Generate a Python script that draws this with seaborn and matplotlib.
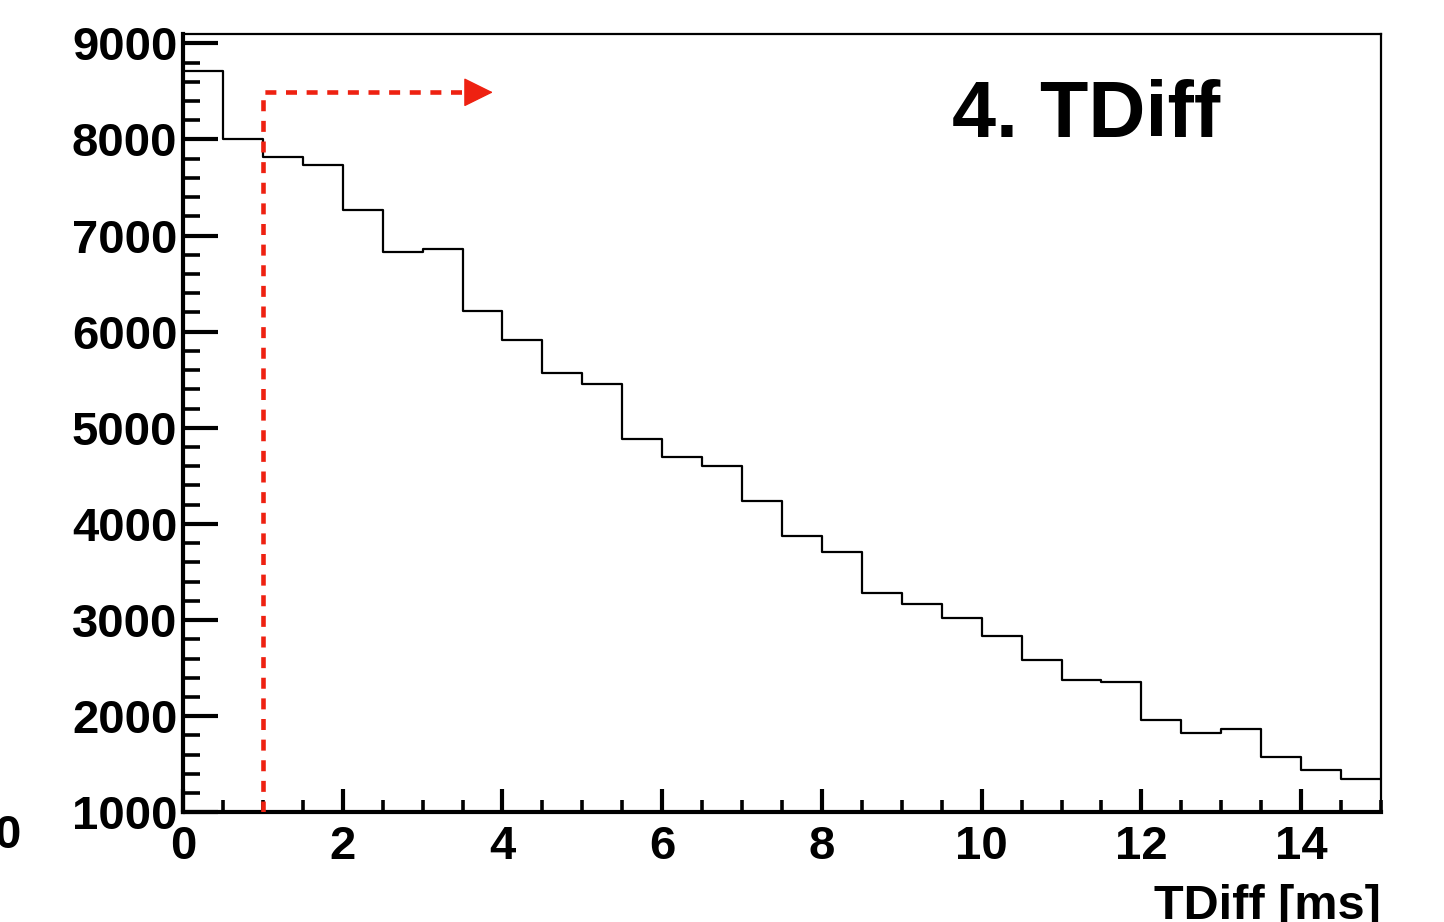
import numpy as np
import pandas as pd
import matplotlib
matplotlib.use("Agg")
import matplotlib.pyplot as plt
from matplotlib.ticker import MultipleLocator
import seaborn as sns

# Histogram of time differences: 30 bins of 0.5 ms between 0 and 15 ms
bin_width = 0.5
x_range = (0, 15)
counts = [8710, 8000, 7822, 7729, 7267, 6834, 6858, 6213, 5915, 5575,
          5453, 4881, 4700, 4607, 4239, 3872, 3712, 3279, 3164, 3019,
          2836, 2588, 2380, 2356, 1964, 1828, 1870, 1575, 1440, 1347]
x_ticks = [0, 2, 4, 6, 8, 10, 12, 14]
y_ticks = [1000, 2000, 3000, 4000, 5000, 6000, 7000, 8000, 9000]

# Selection cut: keep events with TDiff above 1 ms
cut_value = 1.0
cut_arrow_y = 8490
cut_arrow_end = 3.88

title_text = "4. TDiff"
x_label = "TDiff [ms]"

sns.set_style("ticks")
plt.rcParams["font.family"] = ["Liberation Sans", "DejaVu Sans"]
plt.rcParams["font.weight"] = "bold"
for key in ("text.color", "axes.labelcolor", "xtick.color", "ytick.color",
            "axes.edgecolor"):
    plt.rcParams[key] = "black"

fig = plt.figure(figsize=(14.44, 9.22), dpi=100)
ax = fig.add_axes([183 / 1444, 1 - 812.3 / 922, (1381 - 183) / 1444, (812.3 - 33.7) / 922])

centers = x_range[0] + bin_width * (np.arange(len(counts)) + 0.5)
df = pd.DataFrame({"tdiff": centers, "count": counts})
sns.histplot(data=df, x="tdiff", weights="count", binwidth=bin_width,
             binrange=x_range, element="step", fill=False, color="black",
             linewidth=1.6, ax=ax)

ax.set_xlim(*x_range)
ax.set_ylim(1000, 9100)
ax.set_xticks(x_ticks)
ax.set_yticks(y_ticks)
ax.xaxis.set_minor_locator(MultipleLocator(0.5))
ax.yaxis.set_minor_locator(MultipleLocator(200))
ax.set_xlabel("")
ax.set_ylabel("")

for side in ("left", "bottom"):
    ax.spines[side].set_linewidth(3.0)
    ax.spines[side].set_color("black")
for side in ("top", "right"):
    ax.spines[side].set_visible(True)
    ax.spines[side].set_linewidth(1.6)
    ax.spines[side].set_color("black")

ax.tick_params(axis="both", which="both", direction="in", color="black",
               labelcolor="black")
ax.tick_params(axis="y", which="major", length=25, width=3.0, pad=4,
               labelsize=34)
ax.tick_params(axis="y", which="minor", length=12.5, width=2.6)
ax.tick_params(axis="x", which="major", length=16.5, width=3.0, pad=9,
               labelsize=34)
ax.tick_params(axis="x", which="minor", length=8.5, width=2.6)
for lab in ax.get_xticklabels() + ax.get_yticklabels():
    lab.set_fontweight("bold")

# Dashed cut line with an arrow pointing into the accepted region
cut_red = "#ee2111"
head_base = cut_arrow_end - 0.33
ax.plot([cut_value, cut_value, head_base], [1000, cut_arrow_y, cut_arrow_y],
        color=cut_red, linewidth=3.3, linestyle=(0, (2.4, 2.1)),
        solid_joinstyle="miter", zorder=3)
ax.annotate("", xy=(cut_arrow_end, cut_arrow_y), xytext=(head_base, cut_arrow_y),
            arrowprops=dict(arrowstyle="-|>,head_length=0.95,head_width=0.47",
                            color=cut_red, lw=1.0, shrinkA=0, shrinkB=0,
                            mutation_scale=20), zorder=3)

fig.text(952 / 1444, (922 - 137) / 922, title_text, fontsize=57,
         fontweight="bold", ha="left", va="baseline", color="black")
fig.text(1381 / 1444, (922 - 919) / 922, x_label, fontsize=35,
         fontweight="bold", ha="right", va="baseline", color="black")
fig.text(21 / 1444, (922 - 848) / 922, "0", fontsize=34,
         fontweight="bold", ha="right", va="baseline", color="black")

fig.savefig("out.png", dpi=100, facecolor="white")
